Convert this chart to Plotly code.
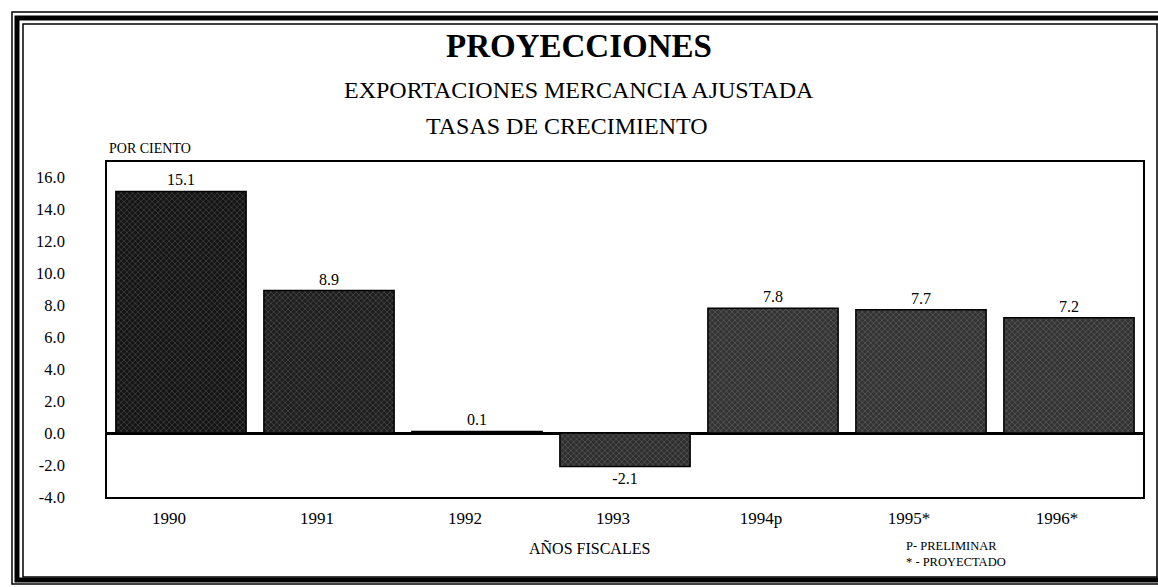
import plotly.graph_objects as go

# data
years = ['1990', '1991', '1992', '1993', '1994p', '1995*', '1996*']
growth = [15.1, 8.9, 0.1, -2.1, 7.8, 7.7, 7.2]
yticks = [16, 14, 12, 10, 8, 6, 4, 2, 0, -2, -4]

W, H = 1158, 587
L, R, T, B = 107, 1143, 162, 497
SERIF = 'Liberation Serif, Times New Roman, serif'


def px(x):
    return (x - L) / (R - L)


def py(y):
    return (B - y) / (B - T)


bar_colors = ['#141414', '#1e1e1e', '#2c2c2c', '#2e2e2e', '#333333', '#333333', '#333333']

fig = go.Figure(go.Bar(
    x=years, y=growth,
    marker=dict(
        color=bar_colors,
        line=dict(color='black', width=1.5),
        pattern=dict(shape='x', fgcolor='white', fgopacity=0.6,
                     size=4, solidity=0.12, fillmode='overlay'),
    ),
    texttemplate='%{y:.1f}', textposition='outside',
    textfont=dict(family=SERIF, size=16, color='black'),
    cliponaxis=False,
))

fig.update_layout(
    width=W, height=H,
    margin=dict(l=L, r=W - R, t=T, b=H - B, pad=0),
    paper_bgcolor='white', plot_bgcolor='white',
    bargap=0.12, showlegend=False,
    font=dict(family=SERIF, color='black'),
)

fig.update_xaxes(
    showline=True, linecolor='black', linewidth=1.5, mirror=True,
    showgrid=False, ticks='', tickfont=dict(size=17),
    ticklabelshift=-12, ticklabelstandoff=5,
)
fig.update_yaxes(
    range=[-4, 16.94], showline=True, linecolor='black', linewidth=1.5, mirror=True,
    showgrid=False, zeroline=True, zerolinecolor='black', zerolinewidth=2.5,
    tickvals=yticks, ticktext=[f'{v:.1f}' for v in yticks], ticks='',
    tickfont=dict(size=16.5), ticklabelstandoff=37,
)


def note(x, y, text, size, **kw):
    fig.add_annotation(x=px(x), y=py(y), text=text, xref='paper', yref='paper',
                       showarrow=False, yanchor='middle',
                       font=dict(family=SERIF, size=size, color='black'), **kw)


note(579, 46, '<b>PROYECCIONES</b>', 33)
note(579, 90, 'EXPORTACIONES MERCANCIA AJUSTADA', 24)
note(567, 126, 'TASAS DE CRECIMIENTO', 24)
note(107, 148, 'POR CIENTO', 14, xanchor='left')
note(589, 548, 'AÑOS FISCALES', 16)
note(904, 554, 'P- PRELIMINAR<br>* - PROYECTADO', 12.5, xanchor='left', align='left')

# double frame around the page
for (x0, y0, x1, y1, w) in [(12, 12, 1162, 584, 1.5), (17, 18, 1165, 580, 5), (23, 24, 1157, 577, 1.5)]:
    fig.add_shape(type='rect', xref='paper', yref='paper',
                  x0=px(x0), y0=py(y0), x1=px(x1), y1=py(y1),
                  line=dict(color='black', width=w), fillcolor='rgba(0,0,0,0)', layer='above')

fig.write_html('out.html', config={'displayModeBar': False},
               post_script="document.body.style.margin='0';")
